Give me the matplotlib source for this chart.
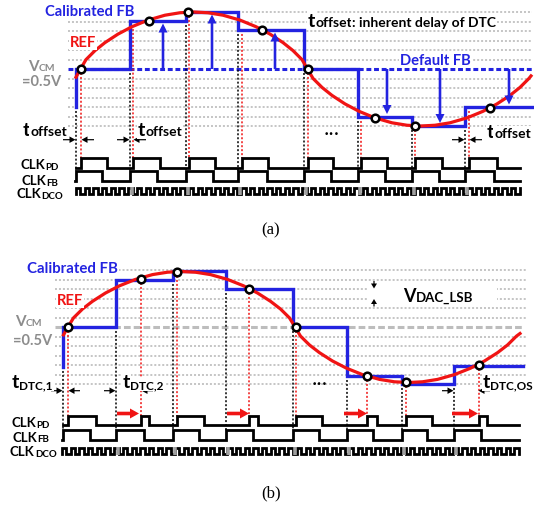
import numpy as np
import matplotlib
matplotlib.use('Agg')
import matplotlib.pyplot as plt

plt.rcParams['font.family'] = ['Lato', 'DejaVu Sans']

BLUE = '#2323e0'
RED = '#f01414'
GRAY_TXT = '#8c8c8c'
GRID = '#b5b5b5'

# ---------------- panel (a) ----------------
A_GRID_Y = [22.5, 32, 41.5, 51, 60.5, 79.5, 89, 98.5, 108, 117.5, 127]
A_GRID_TOP = 13
A_VCM = 70
A_FB_START = 108
A_FB_EDGES = [76, 130, 186, 238, 304, 358, 412, 465]
A_FB_LEVELS = [70, 22, 13, 31, 70, 117.5, 126.5, 108]
A_FB_END = 533
A_SAMPLE_X = [81, 133, 189, 242, 308, 361, 415, 469]
A_PD_FALL = [107, 160, 215, 268, 333, 387, 442, 497]
A_FB_FALL = [102, 157, 213, 267, 331, 385, 439, 494]
A_CIRCLE_X = [80.5, 149, 188, 262, 307.5, 375, 415, 490]
A_CIRCLE_Y = [70, 21.5, 13.2, 31, 70, 118.5, 126.5, 108.5]
A_ARROW_X = [163, 212, 275, 387, 440, 509]
A_ARROW_TO = [22, 13, 31, 117.5, 126.5, 108]
A_TOFF_PAIRS = [(76, 81), (130, 133), (465, 469)]
REF_A_X = [76, 80.5, 86, 95, 105, 118, 132, 148, 165, 180, 194, 208, 223, 240,
           256, 270, 283, 293, 302, 307.5, 313, 322, 332, 345, 359, 375, 392,
           407, 421, 435, 450, 467, 483, 497, 510, 520, 529, 531]
REF_A_Y = [78.2, 70, 60.6, 51.6, 43.6, 35.1, 27.7, 21.1, 16.2, 13.75, 13, 13.75,
           16.2, 21.1, 27.7, 35.1, 43.6, 51.6, 60.6, 70, 79.4, 88.4, 96.4, 104.9,
           112.3, 118.9, 123.8, 126.25, 127, 126.25, 123.8, 118.9, 112.3, 104.9,
           96.4, 88.4, 79.4, 76.9]
A_CLK = dict(pd_hi=159, pd_lo=168.5, fb_hi=171.5, fb_lo=181.5, dco_hi=188.5, dco_lo=194.5)

# ---------------- panel (b) ----------------
B_GRID_Y = [271, 280.5, 290, 299.5, 309, 318.5, 337.5, 347, 356.5, 366, 375.5, 385]
B_VCM = 328
B_FB_START = 367.7
B_FB_EDGES = [63, 116, 173, 226, 293, 347, 402, 454]
B_FB_LEVELS = [328, 280.5, 271.5, 290, 328, 376.5, 385, 366.5]
B_FB_END = 523
B_SAMPLE_X = [68, 140.5, 177, 248.5, 296, 366.5, 405.5, 478.5]
B_SAMPLE_Y = [328, 280, 272.5, 289.5, 328, 376.5, 383, 366]
B_PD_FALL = [96, 149, 204, 258, 322, 377, 432, 487]
B_FB_FALL = [90, 144, 199, 253, 319, 373, 427, 481]
B_SHIFT_FROM = [117, 227, 344, 452]
B_SHIFT_TO = [139, 249, 367, 478]
B_TDTC_PAIRS = [(63, 68), (116, 141), (454, 478)]
REF_B_X = [63.5, 68, 73.5, 82.5, 92.5, 105.5, 119.5, 135.5, 152.5, 167.5, 181.5,
           195.5, 210.5, 227.5, 243.5, 257.5, 270.5, 280.5, 289.5, 295, 300.5,
           309.5, 319.5, 332.5, 346.5, 362.5, 379.5, 394.5, 408.5, 422.5, 437.5,
           454.5, 470.5, 484.5, 497.5, 507.5, 516.5, 520]
REF_B_Y = [335.9, 328, 318.9, 310.0, 302.3, 294.0, 286.8, 280.4, 275.6, 273.2,
           272.5, 273.2, 275.6, 280.4, 286.8, 294.0, 302.3, 310.0, 318.9, 328,
           337.1, 346.0, 353.7, 362.0, 369.2, 375.6, 380.4, 382.8, 383.5, 382.8,
           380.4, 375.6, 369.2, 362.0, 353.7, 346.0, 337.1, 334.5]
B_CLK = dict(pd_hi=416.7, pd_lo=426, fb_hi=431, fb_lo=440.5, dco_hi=448.5, dco_lo=455)
DCO_PERIOD = 8.7

fig = plt.figure(figsize=(5.34, 5.06), dpi=100)
ax = fig.add_axes([0, 0, 1, 1])
ax.set_xlim(0, 534)
ax.set_ylim(506, 0)
ax.axis('off')
R = fig.canvas.get_renderer()

DOT = (0, (1.3, 1.3))


def rich(x, y, parts, color='black', bg=False, z=8):
    for s, fs, dy in parts:
        kw = {}
        if bg:
            kw['bbox'] = dict(fc='white', ec='none', pad=0.6)
        t = ax.text(x, y + dy, s, fontsize=fs, fontweight='bold', color=color,
                    ha='left', va='baseline', zorder=z, **kw)
        x += t.get_window_extent(renderer=R).width


def staircase(start, edges, levels, end):
    xs, ys = [edges[0]], [start]
    prev = start
    for e, l in zip(edges, levels):
        xs += [e, e]
        ys += [prev, l]
        prev = l
    xs.append(end)
    ys.append(prev)
    ax.plot(xs, ys, color=BLUE, lw=2.4, solid_joinstyle='miter', zorder=4)


def clock(rises, falls, x0, x1, hi, lo):
    xs, ys = [x0], [lo]
    for r_, f_ in zip(rises, falls):
        xs += [r_, r_, f_, f_]
        ys += [lo, hi, hi, lo]
    xs.append(x1)
    ys.append(lo)
    ax.plot(xs, ys, color='black', lw=2.0, solid_joinstyle='miter', zorder=5)


def dco(x0, x1, hi, lo, marks):
    edges = np.arange(x0, x1, DCO_PERIOD / 2)
    xs, ys = [x0], [lo]
    level = lo
    for e in edges:
        nxt = hi if level == lo else lo
        xs += [e, e]
        ys += [level, nxt]
        level = nxt
    xs.append(x1)
    ys.append(level)
    ax.plot(xs, ys, color='black', lw=2.0, solid_joinstyle='miter', zorder=5)
    ax.vlines(np.array(marks) + 1.5, hi - 1, lo + 1, colors='#a0a0a0', lw=2.6, zorder=6)


def lower_ends(start, levels):
    prevs = [start] + list(levels[:-1])
    return [max(p, l) for p, l in zip(prevs, levels)]


def pair_arrows(pairs, y, length):
    for xa, xb in pairs:
        ax.arrow(xa - length, y, length - 0.5, 0, width=1.2, head_width=6.5, head_length=6,
                 length_includes_head=True, fc='black', ec='none', zorder=7)
        ax.arrow(xb + length, y, -(length - 0.5), 0, width=1.2, head_width=6.5, head_length=6,
                 length_includes_head=True, fc='black', ec='none', zorder=7)


# ================= panel (a) =================
ax.hlines(A_GRID_Y, 68, 532, colors=GRID, lw=1.1, linestyles=DOT, zorder=1)
ax.hlines([A_GRID_TOP], 238, 532, colors=GRID, lw=1.1, linestyles=DOT, zorder=1)
ax.hlines([A_VCM], 68, 534, colors=BLUE, lw=2.2, linestyles=(0, (1.6, 0.9)), zorder=2)
ax.vlines(A_FB_EDGES, lower_ends(A_FB_START, A_FB_LEVELS), A_CLK['fb_hi'],
          colors='black', lw=1.1, linestyles=DOT, zorder=2)
ax.vlines(A_SAMPLE_X, A_FB_LEVELS, A_CLK['pd_hi'], colors=RED, lw=1.1, linestyles=DOT, zorder=2)
staircase(A_FB_START, A_FB_EDGES, A_FB_LEVELS, A_FB_END)
ax.plot(REF_A_X, REF_A_Y, color=RED, lw=2.3, zorder=5)
for x, to in zip(A_ARROW_X, A_ARROW_TO):
    tip = to + 2.5 if to < A_VCM else to - 2.5
    ax.arrow(x, A_VCM, 0, tip - A_VCM, width=2.6, head_width=9, head_length=9,
             length_includes_head=True, fc=BLUE, ec='none', zorder=5)
ax.plot(A_CIRCLE_X, A_CIRCLE_Y, 'o', ms=5.5, mfc='white', mec='black', mew=1.8, zorder=7)
clock(A_SAMPLE_X, A_PD_FALL, 76, 520, A_CLK['pd_hi'], A_CLK['pd_lo'])
clock(A_FB_EDGES, A_FB_FALL, 75, 520, A_CLK['fb_hi'], A_CLK['fb_lo'])
dco(76, 520, A_CLK['dco_hi'], A_CLK['dco_lo'], A_FB_EDGES[1:])
pair_arrows(A_TOFF_PAIRS, 140.7, 13)

rich(45, 15.5, [('Calibrated FB', 10.6, 0)], color=BLUE)
rich(70, 46.7, [('REF', 10.6, 0)], color=RED, bg=True)
rich(28, 70.5, [('V', 11, 0), ('CM', 7.5, 0.5)], color=GRAY_TXT)
rich(22, 85.5, [('=0.5V', 10.5, 0)], color=GRAY_TXT)
rich(400, 65, [('Default FB', 10.6, 0)], color=BLUE, bg=True)
rich(308, 26.7, [('t', 14, 0), ('offset', 10, 0), (': inherent delay of DTC', 10, 0)], bg=True)
rich(22.7, 136, [('t', 14, 0), ('offset', 10, 0)], bg=True)
rich(138, 136, [('t', 14, 0), ('offset', 10, 0)], bg=True)
rich(486.7, 138, [('t', 14, 0), ('offset', 10, 0)], bg=True)
rich(20.5, 169.3, [('CLK', 9.5, 0), ('PD', 7, 0.8)])
rich(21.5, 184.8, [('CLK', 9.5, 0), ('FB', 7, 0.8)])
rich(16.5, 198.5, [('CLK', 9.5, 0), ('DCO', 7, 0.8)])
ax.text(332, 134, '•••', fontsize=6.5, ha='center', va='center', family='DejaVu Sans', zorder=8)
ax.text(271, 230, '(a)', fontsize=12, ha='center', va='center', family='Liberation Serif')

# ================= panel (b) =================
ax.hlines(B_GRID_Y, 55, 526, colors=GRID, lw=1.1, linestyles=DOT, zorder=1)
ax.hlines([B_VCM], 55, 524, colors='#bdbdbd', lw=2.2, linestyles=(0, (2.2, 1.0)), zorder=2)
ax.vlines(B_FB_EDGES, lower_ends(B_FB_START, B_FB_LEVELS), B_CLK['fb_hi'],
          colors='black', lw=1.1, linestyles=DOT, zorder=2)
ax.vlines(B_SAMPLE_X, B_SAMPLE_Y, B_CLK['pd_hi'], colors=RED, lw=1.1, linestyles=DOT, zorder=2)
staircase(B_FB_START, B_FB_EDGES, B_FB_LEVELS, B_FB_END)
ax.plot(REF_B_X, REF_B_Y, color=RED, lw=2.3, zorder=5)
ax.plot(B_SAMPLE_X, B_SAMPLE_Y, 'o', ms=5.5, mfc='white', mec='black', mew=1.8, zorder=7)
clock(B_SAMPLE_X, B_PD_FALL, 63, 519, B_CLK['pd_hi'], B_CLK['pd_lo'])
clock(B_FB_EDGES, B_FB_FALL, 62, 519, B_CLK['fb_hi'], B_CLK['fb_lo'])
dco(62, 519, B_CLK['dco_hi'], B_CLK['dco_lo'], B_FB_EDGES[1:])
for x0, x1 in zip(B_SHIFT_FROM, B_SHIFT_TO):
    ax.arrow(x0, 414.5, x1 - x0, 0, width=3.6, head_width=10, head_length=9,
             length_includes_head=True, fc=RED, ec='none', zorder=8)
pair_arrows(B_TDTC_PAIRS, 391.7, 12)

ax.add_patch(plt.Rectangle((367, 284), 130, 21, fc='white', ec='none', zorder=1.5))
ax.arrow(374, 282, 0, 7.5, width=1.2, head_width=6, head_length=5,
         length_includes_head=True, fc='black', ec='none', zorder=7)
ax.arrow(374, 307.5, 0, -7.5, width=1.2, head_width=6, head_length=5,
         length_includes_head=True, fc='black', ec='none', zorder=7)

rich(27, 273.3, [('Calibrated FB', 10.8, 0)], color=BLUE, bg=True)
rich(57, 305, [('REF', 10.6, 0)], color=RED, bg=True)
rich(15, 325.7, [('V', 11, 0), ('CM', 7.5, 0.5)], color=GRAY_TXT)
rich(13, 345, [('=0.5V', 10.5, 0)], color=GRAY_TXT)
rich(403, 301.7, [('V', 13, 0), ('DAC_LSB', 9.5, 0)])
rich(12, 388.3, [('t', 14, 0), ('DTC,1', 8.5, 0.8)], bg=True)
rich(123, 388.3, [('t', 14, 0), ('DTC,2', 8.5, 0.8)], bg=True)
rich(483, 388.3, [('t', 14, 0), ('DTC,OS', 8.5, 0.8)], bg=True)
rich(11.5, 427.3, [('CLK', 9.5, 0), ('PD', 7, 0.8)])
rich(12.5, 441.7, [('CLK', 9.5, 0), ('FB', 7, 0.8)])
rich(10, 456, [('CLK', 9.5, 0), ('DCO', 7, 0.8)])
ax.text(320, 385, '•••', fontsize=6.5, ha='center', va='center', family='DejaVu Sans', zorder=8)
ax.text(271.5, 493, '(b)', fontsize=12, ha='center', va='center', family='Liberation Serif')

fig.savefig('out.png', dpi=100, facecolor='white')
